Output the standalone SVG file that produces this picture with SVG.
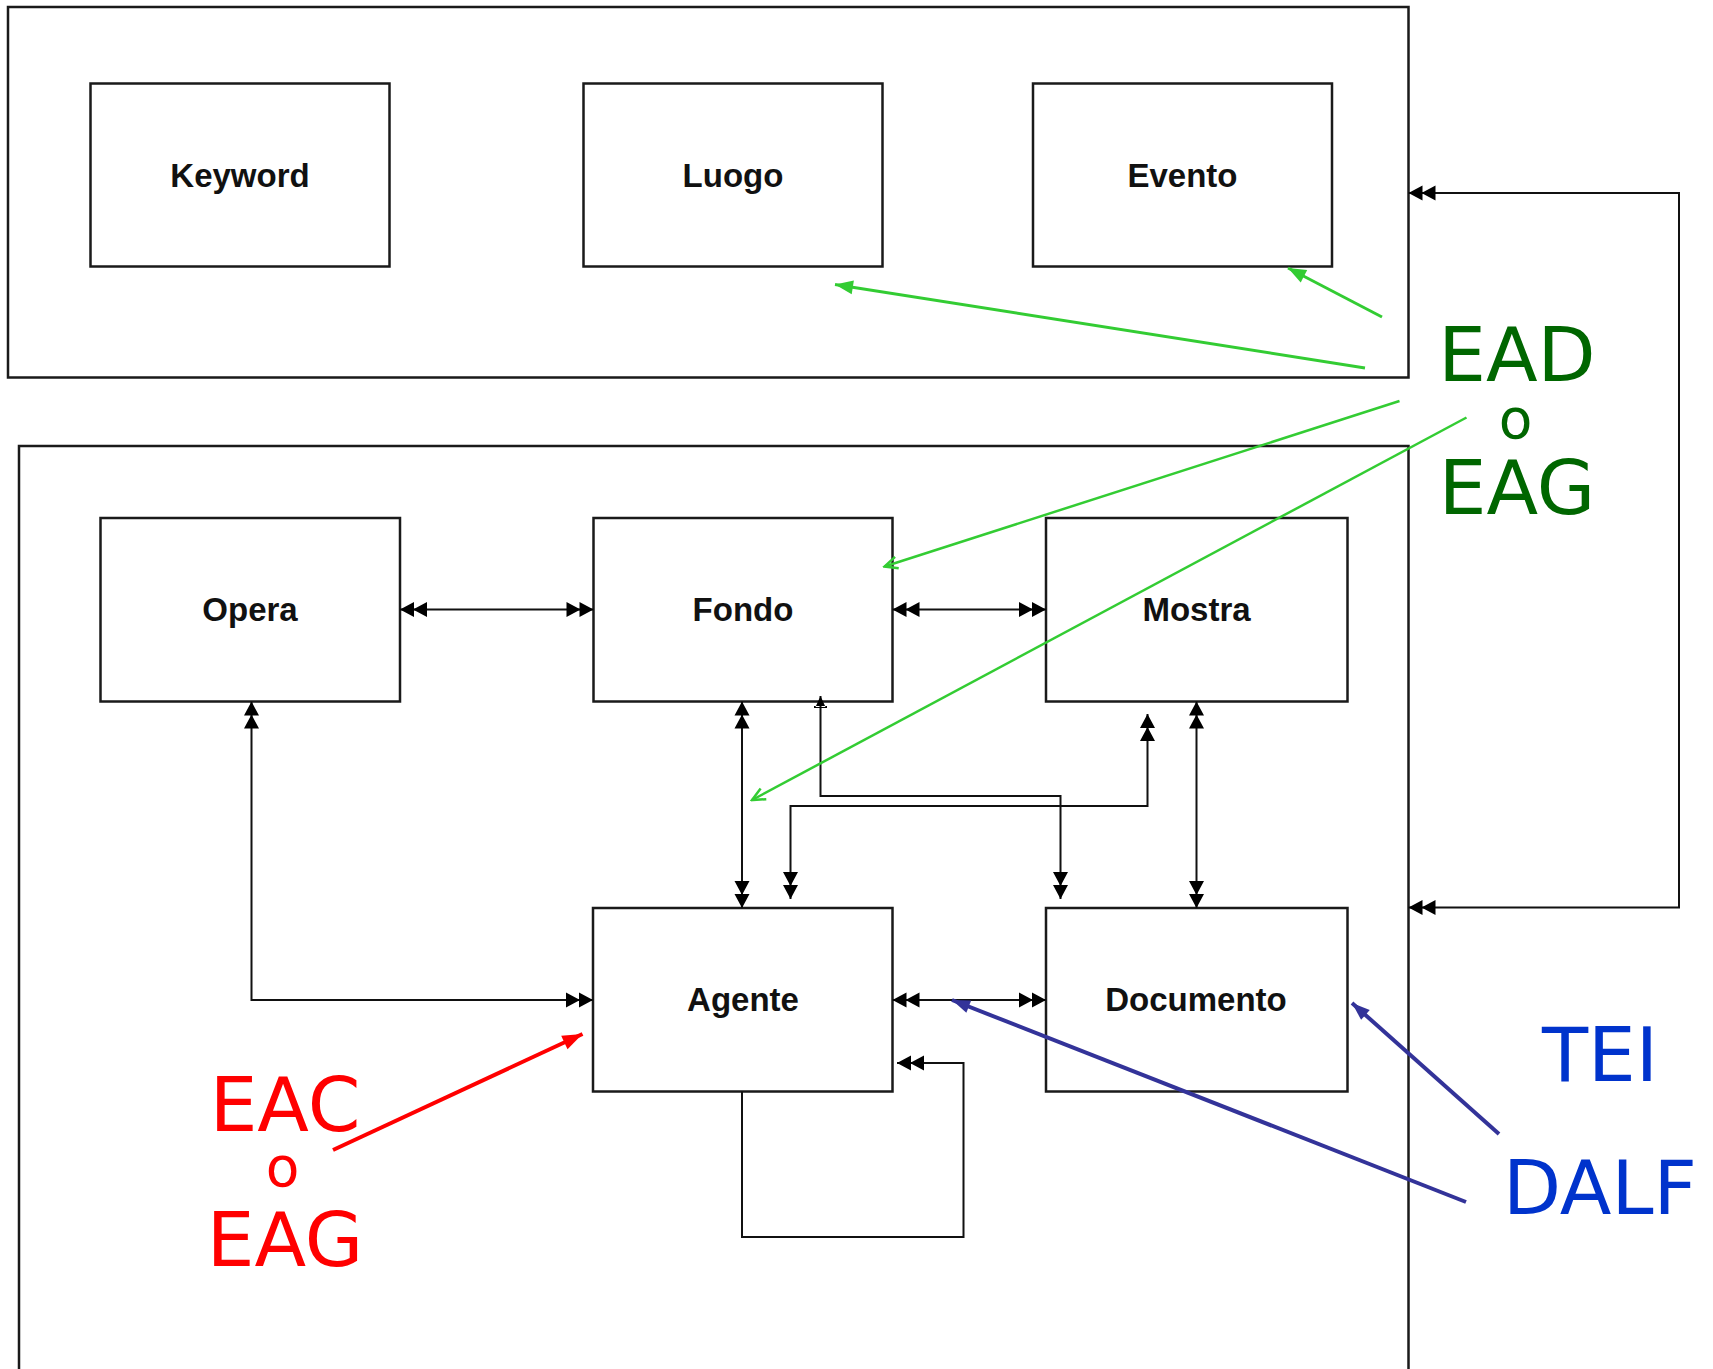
<svg xmlns="http://www.w3.org/2000/svg" width="1713" height="1369" viewBox="0 0 1713 1369">
<style>
.frame{fill:none;stroke:#1a1a1a;stroke-width:2.5}
.node rect{fill:#fff;stroke:#1a1a1a;stroke-width:2.5}
.node text{font-family:"Liberation Sans",Arial,sans-serif;font-weight:bold;font-size:33px;text-anchor:middle;fill:#111}
.conn{fill:none;stroke:#111;stroke-width:2}
.lbl{font-family:"DejaVu Sans",sans-serif;font-size:75.5px;text-anchor:middle}
.o{font-family:"DejaVu Sans",sans-serif;font-size:55px;text-anchor:middle}
.g{fill:#006600}.r{fill:#ff0000}.b{fill:#0033cc}
</style>
<defs>
<marker id="dbl" markerUnits="userSpaceOnUse" viewBox="-30 -9 32 18" refX="0" refY="0" markerWidth="32" markerHeight="18" orient="auto-start-reverse">
<path d="M0,0 L-14,-7.5 L-14,7.5 Z M-13,0 L-27,-7.5 L-27,7.5 Z" fill="#000"/>
</marker>
<marker id="sgl" markerUnits="userSpaceOnUse" viewBox="-14 -8 16 16" refX="0" refY="0" markerWidth="16" markerHeight="16" orient="auto-start-reverse">
<path d="M0,0 L-11,-5 L-11,5 Z M-12,-6.5 L-10,-6.5 L-10,6.5 L-12,6.5 Z" fill="#000"/>
</marker>
<marker id="gf" markerUnits="userSpaceOnUse" viewBox="-20 -9 22 18" refX="0" refY="0" markerWidth="22" markerHeight="18" orient="auto">
<path d="M0,0 L-18,-7 L-18,7 Z" fill="#33cc33"/>
</marker>
<marker id="go" markerUnits="userSpaceOnUse" viewBox="-16 -9 18 18" refX="0" refY="0" markerWidth="18" markerHeight="18" orient="auto">
<path d="M-13,-6 L0,0 L-13,6" fill="none" stroke="#33cc33" stroke-width="2.5"/>
</marker>
<marker id="rf" markerUnits="userSpaceOnUse" viewBox="-22 -10 24 20" refX="0" refY="0" markerWidth="24" markerHeight="20" orient="auto">
<path d="M0,0 L-20,-7.5 L-20,7.5 Z" fill="#ff0000"/>
</marker>
<marker id="bf" markerUnits="userSpaceOnUse" viewBox="-20 -9 22 18" refX="0" refY="0" markerWidth="22" markerHeight="18" orient="auto">
<path d="M0,0 L-18,-6.5 L-18,6.5 Z" fill="#333399"/>
</marker>
</defs>
<rect width="1713" height="1369" fill="#fff"/>
<g id="frame-top"><rect class="frame" x="8" y="7" width="1400.5" height="370.5"/></g>
<g id="frame-bottom"><rect class="frame" x="19" y="446" width="1389.5" height="930"/></g>
<g id="keyword" class="node"><rect x="90.5" y="83.5" width="299" height="183"/><text x="240" y="186.5">Keyword</text></g>
<g id="luogo" class="node"><rect x="583.5" y="83.5" width="299" height="183"/><text x="733" y="186.5">Luogo</text></g>
<g id="evento" class="node"><rect x="1033" y="83.5" width="299" height="183"/><text x="1182.5" y="186.5">Evento</text></g>
<g id="opera" class="node"><rect x="100.5" y="518" width="299.5" height="183.5"/><text x="250" y="621">Opera</text></g>
<g id="fondo" class="node"><rect x="593.5" y="518" width="299" height="183.5"/><text x="743" y="621">Fondo</text></g>
<g id="mostra" class="node"><rect x="1046" y="518" width="301.5" height="183.5"/><text x="1196.5" y="621">Mostra</text></g>
<g id="agente" class="node"><rect x="593" y="908" width="299.5" height="183.5"/><text x="743" y="1011">Agente</text></g>
<g id="documento" class="node"><rect x="1046" y="908" width="301.5" height="183.5"/><text x="1196" y="1011">Documento</text></g>
<g id="connectors">
<path class="conn" d="M400,609.5 H593.5" marker-start="url(#dbl)" marker-end="url(#dbl)"/>
<path class="conn" d="M892.5,609.5 H1046" marker-start="url(#dbl)" marker-end="url(#dbl)"/>
<path class="conn" d="M251.5,701.5 V1000 H593" marker-start="url(#dbl)" marker-end="url(#dbl)"/>
<path class="conn" d="M742,701.5 V908" marker-start="url(#dbl)" marker-end="url(#dbl)"/>
<path class="conn" d="M1196.5,701.5 V908" marker-start="url(#dbl)" marker-end="url(#dbl)"/>
<path class="conn" d="M820.5,696 V796 H1060.5 V899" marker-start="url(#sgl)" marker-end="url(#dbl)"/>
<path class="conn" d="M1147.5,714 V806 H790.5 V899" marker-start="url(#dbl)" marker-end="url(#dbl)"/>
<path class="conn" d="M892.5,1000 H1046" marker-start="url(#dbl)" marker-end="url(#dbl)"/>
<path class="conn" d="M742,1091.5 V1237 H963.5 V1063 H897" marker-end="url(#dbl)"/>
<path class="conn" d="M1408.5,193 H1679 V907.5 H1408.5" marker-start="url(#dbl)" marker-end="url(#dbl)"/>
</g>
<g id="annotation-arrows">
<line x1="1382" y1="317" x2="1288" y2="268" stroke="#33cc33" stroke-width="3" marker-end="url(#gf)"/>
<line x1="1365" y1="368" x2="835" y2="284.5" stroke="#33cc33" stroke-width="3" marker-end="url(#gf)"/>
<line x1="1399.5" y1="401" x2="884.5" y2="566.5" stroke="#33cc33" stroke-width="2.5" marker-end="url(#go)"/>
<line x1="1466.5" y1="417.5" x2="752" y2="800" stroke="#33cc33" stroke-width="2.5" marker-end="url(#go)"/>
<line x1="333" y1="1150" x2="582.5" y2="1034" stroke="#ff0000" stroke-width="4" marker-end="url(#rf)"/>
<line x1="1466" y1="1202" x2="952" y2="1000" stroke="#333399" stroke-width="4" marker-end="url(#bf)"/>
<line x1="1499" y1="1134" x2="1352" y2="1003" stroke="#333399" stroke-width="4" marker-end="url(#bf)"/>
</g>
<g id="label-ead">
<text class="lbl g" x="1517" y="380.5">EAD</text>
<text class="o g" x="1515.5" y="437.5">o</text>
<text class="lbl g" x="1517" y="513.5">EAG</text>
</g>
<g id="label-eac">
<text class="lbl r" x="285" y="1130.5">EAC</text>
<text class="o r" x="282.5" y="1186">o</text>
<text class="lbl r" x="285" y="1266">EAG</text>
</g>
<g id="label-tei-dalf">
<text class="lbl b" x="1542" y="1081" style="text-anchor:start">TEI</text>
<text class="lbl b" x="1503" y="1214" style="text-anchor:start">DALF</text>
</g>
</svg>
